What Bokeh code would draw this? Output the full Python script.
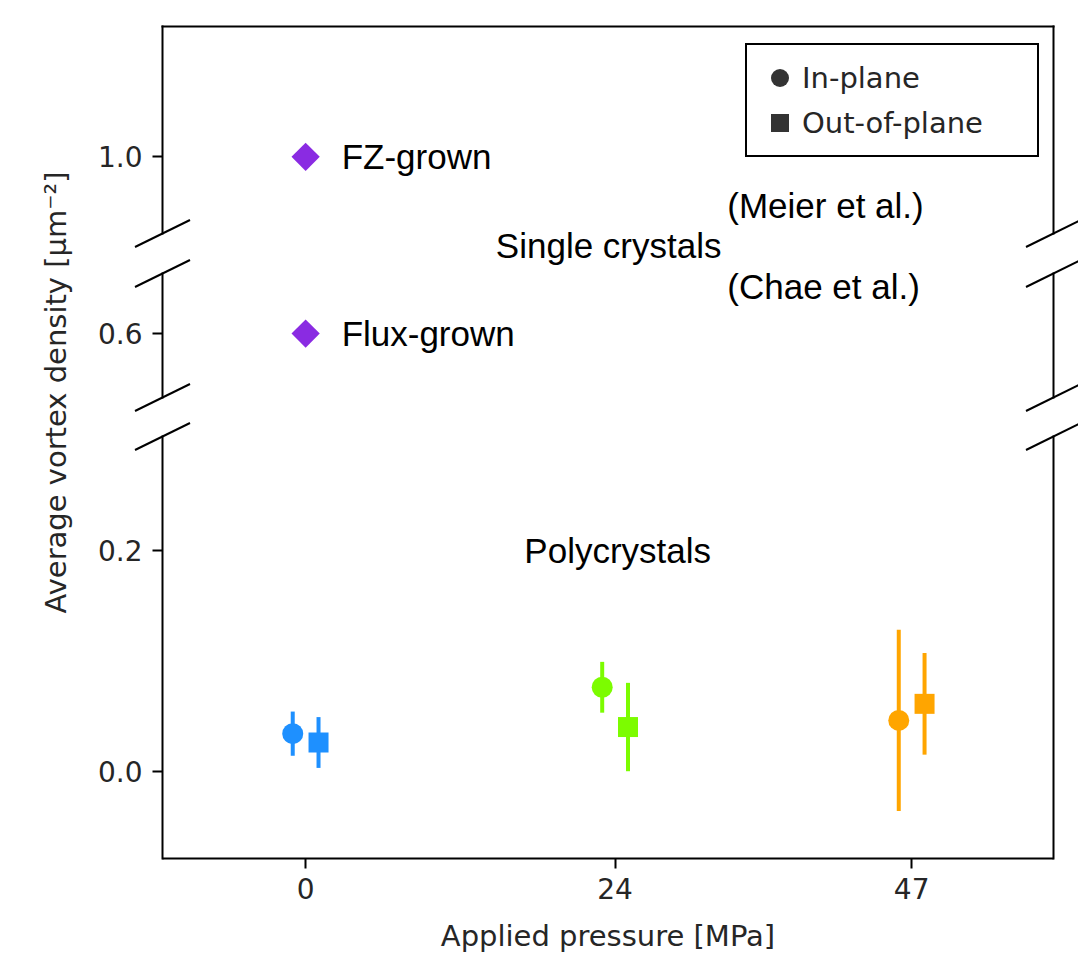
import numpy as np
from bokeh.plotting import figure
from bokeh.models import Range1d, FixedTicker, Legend, LegendItem
from bokeh.core.properties import value
from bokeh.embed import file_html
from bokeh.resources import INLINE

# ---------------- data ----------------
pressures = [0, 24, 47]
x_tick_labels = ["0", "24", "47"]
inplane_density = [0.034, 0.076, 0.046]
inplane_error = [0.020, 0.023, 0.082]
outplane_density = [0.026, 0.040, 0.061]
outplane_error = [0.023, 0.040, 0.046]
pressure_colors = ["#1E90FF", "#7CFC00", "#FFA500"]
single_crystal_names = ["FZ-grown", "Flux-grown"]
single_crystal_pressure = [0, 0]
single_crystal_density = [1.0, 0.6]
y_ticks = [0.0, 0.2, 0.6, 1.0]
y_tick_labels = ["0.0", "0.2", "0.6", "1.0"]
note_texts = ["(Meier et al.)", "(Chae et al.)", "Single crystals", "Polycrystals"]
note_x = [32.7, 32.7, 23.5, 24.2]
note_y = [0.968, 0.637, 0.669, 0.2]
note_seg = ["top", "mid", "mid", "bot"]
note_align = ["left", "left", "center", "center"]

# ---------------- layout ----------------
W, H = 1078, 952
VL, VT, FW, FH = 162, 26, 891, 832          # visible (broken) frame box in page pixels
VR = W - VL - FW
VB = H - VT - FH
XR = (-11.1, 58.0)
PPU = FW / (XR[1] - XR[0])
# broken axis segments: data limits and pixel span measured from the frame bottom
segments = {
    "bot": ((-0.079, 0.303), (0, 422)),
    "mid": ((0.55, 0.647), (461, 585)),
    "top": ((0.95, 1.085), (625, 832)),
}


def seg_of(v):
    return "bot" if v < 0.4 else ("mid" if v < 0.8 else "top")


def to_disp(v, seg):
    (a, b), (p0, p1) = segments[seg]
    return p0 + (v - a) * (p1 - p0) / (b - a)


def seg_range(seg):
    (a, b), (p0, p1) = segments[seg]
    s = (p1 - p0) / (b - a)
    start = a - (p0 + VB) / s
    return Range1d(start, start + H / s)


x0, x1 = XR
p = figure(width=W, height=H,
           x_range=Range1d(x0 - VL / PPU, x1 + VR / PPU), y_range=Range1d(-VB, FH + VT),
           output_backend="svg", toolbar_location=None,
           min_border_left=0, min_border_right=0, min_border_top=0, min_border_bottom=0)
p.extra_y_ranges = {k: seg_range(k) for k in segments}
p.outline_line_color = None
p.grid.visible = False
p.background_fill_color = "white"
p.border_fill_color = "white"

TICK_FONT = "28px"
LAB_FONT = "29px"
TXT_FONT = "35px"

# axes (placed on the visible frame edges)
p.xaxis.fixed_location = 0
p.xaxis.bounds = (x0, x1)
p.xaxis.ticker = FixedTicker(ticks=pressures)
p.xaxis.major_label_overrides = {pp: lab for pp, lab in zip(pressures, x_tick_labels)}
p.xaxis.axis_label = "Applied pressure [MPa]"
p.yaxis.fixed_location = x0
p.yaxis.axis_line_color = None
ytick_pos = [round(to_disp(v, seg_of(v)), 1) for v in y_ticks]
p.yaxis.ticker = FixedTicker(ticks=ytick_pos)
p.yaxis.major_label_overrides = {t: lab for t, lab in zip(ytick_pos, y_tick_labels)}
for ax in (p.xaxis[0], p.yaxis[0]):
    ax.minor_tick_line_color = None
    ax.major_tick_in = 0
    ax.major_tick_out = 10
    ax.major_tick_line_width = 2
    ax.major_tick_line_color = "black"
    ax.major_label_text_font = "DejaVu Sans"
    ax.major_label_text_font_size = TICK_FONT
    ax.major_label_text_color = "#262626"
    ax.axis_label_text_font = "DejaVu Sans"
    ax.axis_label_text_font_size = LAB_FONT
    ax.axis_label_text_font_style = "normal"
    ax.axis_label_text_color = "#262626"
p.yaxis.major_label_standoff = 10
p.xaxis.major_label_standoff = 9
p.xaxis.axis_line_width = 2
p.xaxis.axis_line_color = "black"
p.xaxis.axis_label_standoff = 17

# frame edges per segment (gaps at the breaks) and the break marks
ex0, ey0, ex1, ey1 = [], [], [], []
for (a, b), (q0, q1) in segments.values():
    for xe in (x0, x1):
        ex0.append(xe); ey0.append(q0); ex1.append(xe); ey1.append(q1)
ex0.append(x0); ey0.append(FH); ex1.append(x1); ey1.append(FH)
p.segment(x0=ex0, y0=ey0, x1=ex1, y1=ey1, line_color="black", line_width=2, line_cap="square")

bx0, by0, bx1, by1 = [], [], [], []
for yb in (segments["bot"][1][1], segments["mid"][1][0], segments["mid"][1][1], segments["top"][1][0]):
    for xe in (x0, x1):
        bx0.append(xe - 27.5 / PPU); by0.append(yb - 13.5)
        bx1.append(xe + 27.5 / PPU); by1.append(yb + 13.5)
p.segment(x0=bx0, y0=by0, x1=bx1, y1=by1, line_color="black", line_width=2)

# y axis label spanning the broken axis
p.text(x=[x0 - 107 / PPU], y=[466], text=["Average vortex density [µm⁻²]"], angle=np.pi / 2,
       text_align="center", text_baseline="middle", text_font=value("DejaVu Sans"),
       text_font_size=LAB_FONT, text_color="#262626")

# polycrystal data with error bars
x_in = [pp - 1 for pp in pressures]
x_out = [pp + 1 for pp in pressures]
p.segment(x0=x_in, y0=[v - e for v, e in zip(inplane_density, inplane_error)],
          x1=x_in, y1=[v + e for v, e in zip(inplane_density, inplane_error)],
          line_color=pressure_colors, line_width=4, y_range_name="bot")
p.segment(x0=x_out, y0=[v - e for v, e in zip(outplane_density, outplane_error)],
          x1=x_out, y1=[v + e for v, e in zip(outplane_density, outplane_error)],
          line_color=pressure_colors, line_width=4, y_range_name="bot")
p.scatter(x=x_in, y=inplane_density, marker="circle", size=21, color=pressure_colors,
          line_color=None, y_range_name="bot")
p.scatter(x=x_out, y=outplane_density, marker="square", size=20, color=pressure_colors,
          line_color=None, y_range_name="bot")

# single crystal points
for name, xp, v in zip(single_crystal_names, single_crystal_pressure, single_crystal_density):
    seg = seg_of(v)
    p.scatter(x=[xp], y=[v], marker="square", angle=np.pi / 4, size=20, color="#8A2BE2",
              line_color=None, y_range_name=seg)
    p.text(x=[xp], y=[v], text=[name], x_offset=36, text_baseline="middle", text_align="left",
           text_font=value("Liberation Sans"), text_font_size=TXT_FONT, text_color="black",
           y_range_name=seg)

for t, xx, yy, sg, al in zip(note_texts, note_x, note_y, note_seg, note_align):
    p.text(x=[xx], y=[yy], text=[t], text_baseline="middle", text_align=al,
           text_font=value("Liberation Sans"), text_font_size=TXT_FONT, text_color="black",
           y_range_name=sg)

# legend
r_in = p.scatter(x=[np.nan], y=[np.nan], marker="circle", color="#333333", line_color=None)
r_out = p.scatter(x=[np.nan], y=[np.nan], marker="square", color="#333333", line_color=None)
legend = Legend(items=[LegendItem(label="In-plane", renderers=[r_in]),
                       LegendItem(label="Out-of-plane", renderers=[r_out])],
                location=(745, H - 157), padding=10, spacing=0,
                glyph_width=45, glyph_height=45, label_standoff=0, label_width=225,
                label_text_font="DejaVu Sans", label_text_font_size=LAB_FONT,
                label_text_color="#262626", border_line_color="black", border_line_width=2,
                border_line_alpha=1.0, background_fill_alpha=1.0)
p.add_layout(legend)

open("out.html", "w").write(file_html(p, INLINE))
